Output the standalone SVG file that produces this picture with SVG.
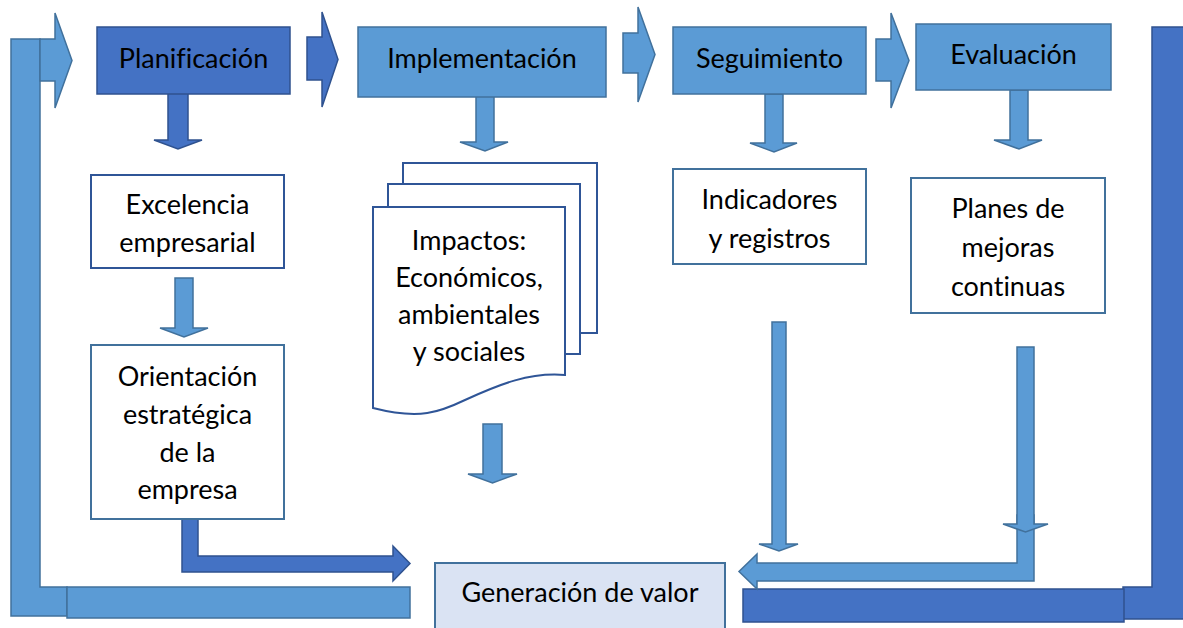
<svg xmlns="http://www.w3.org/2000/svg" width="1183" height="628" viewBox="0 0 1183 628">
<style>
.dk{fill:#4472C4;stroke:#2F528F;stroke-width:1.5}
.lt{fill:#5B9BD5;stroke:#41719C;stroke-width:1.5}
.bx{fill:#FFFFFF;stroke:#41719C;stroke-width:2}
.bxd{fill:#FFFFFF;stroke:#2F5597;stroke-width:2}
.gv{fill:#DAE3F3;stroke:#41719C;stroke-width:2}
text{font-family:Lato,"Liberation Sans",sans-serif;font-size:27px;fill:#000;text-anchor:middle;font-variant-ligatures:none}
</style>
<rect width="1183" height="628" fill="#FFFFFF"/>
<g id="connectors">
  <path class="lt" d="M11,39 H40 V587 H67 V616 H11 Z"/>
  <rect class="lt" x="67" y="587" width="343" height="31"/>
  <path class="lt" d="M40,39 H55 V13 L72,60.5 L55,108 V81 H40 Z"/>
  <path class="dk" d="M1152,27 H1195 V619 H1123 V587 H1152 Z"/>
  <rect class="dk" x="743" y="589" width="381" height="33"/>
  <path class="dk" d="M307,37 H322 V12 L338,59.5 L322,107 V80 H307 Z"/>
  <path class="lt" d="M623,33 H638 V7 L655,54.5 L638,102 V73 H623 Z"/>
  <path class="lt" d="M876,39 H891 V13 L909,60.5 L891,108 V81 H876 Z"/>
  <path class="dk" d="M168,90 H188 V140 H202 L178,149 L154,140 H168 Z"/>
  <path class="lt" d="M476,93 H494 V142 H508 L485,151 L460,142 H476 Z"/>
  <path class="lt" d="M765,94 H783 V143 H797 L774,152 L750,143 H765 Z"/>
  <path class="lt" d="M1010,90 H1028 V140 H1042 L1019,149 L994,140 H1010 Z"/>
  <path class="lt" d="M175,278 H193 V328 H208 L184,337 L160,328 H175 Z"/>
  <path class="dk" d="M182,517 H198 V556 H393 V546 L410,563.5 L393,581 V572 H182 Z"/>
  <path class="lt" d="M483,424 H502 V474 H517 L492.5,483 L468,474 H483 Z"/>
  <path class="lt" d="M772,322 H786 V544 H798 L779,551 L759,544 H772 Z"/>
  <path class="lt" d="M1034,515 V581 H757 V589 L739,571.5 L757,554 V563 H1017 V515 Z"/>
  <path class="lt" d="M1017,347 H1034 V524 H1048 L1025.5,532 L1003,524 H1017 Z"/>
</g>
<g id="planificacion">
  <rect class="dk" x="97" y="27" width="193" height="67"/>
  <text x="193.5" y="68">Planificación</text>
</g>
<g id="implementacion">
  <rect class="lt" x="358" y="27" width="248" height="70"/>
  <text x="482" y="68">Implementación</text>
</g>
<g id="seguimiento">
  <rect class="lt" x="673" y="27" width="193" height="67"/>
  <text x="769.5" y="68">Seguimiento</text>
</g>
<g id="evaluacion">
  <rect class="lt" x="916" y="24" width="195" height="66"/>
  <text x="1013.5" y="64">Evaluación</text>
</g>
<g id="excelencia">
  <rect class="bxd" x="91" y="175" width="193" height="93"/>
  <text x="187.5" y="214">Excelencia</text>
  <text x="187.5" y="252">empresarial</text>
</g>
<g id="orientacion">
  <rect class="bx" x="91" y="345" width="193" height="174"/>
  <text x="187.5" y="386">Orientación</text>
  <text x="187.5" y="424">estratégica</text>
  <text x="187.5" y="462">de la</text>
  <text x="187.5" y="499">empresa</text>
</g>
<g id="impactos">
  <rect class="bxd" x="403" y="163" width="194" height="170"/>
  <rect class="bxd" x="388" y="184" width="192" height="170"/>
  <path class="bxd" d="M373,207 H565 V375 C530,372 500,384 465,400 C440,412 420,420 373,408 Z"/>
  <text x="469" y="250">Impactos:</text>
  <text x="469" y="287">Económicos,</text>
  <text x="469" y="324">ambientales</text>
  <text x="469" y="361">y sociales</text>
</g>
<g id="indicadores">
  <rect class="bx" x="673" y="169" width="193" height="95"/>
  <text x="769.5" y="209">Indicadores</text>
  <text x="769.5" y="248">y registros</text>
</g>
<g id="planes">
  <rect class="bx" x="911" y="178" width="194" height="135"/>
  <text x="1008" y="218">Planes de</text>
  <text x="1008" y="257">mejoras</text>
  <text x="1008" y="296">continuas</text>
</g>
<g id="generacion">
  <rect class="gv" x="435" y="563" width="290" height="80"/>
  <text x="580" y="602">Generación de valor</text>
</g>
</svg>
